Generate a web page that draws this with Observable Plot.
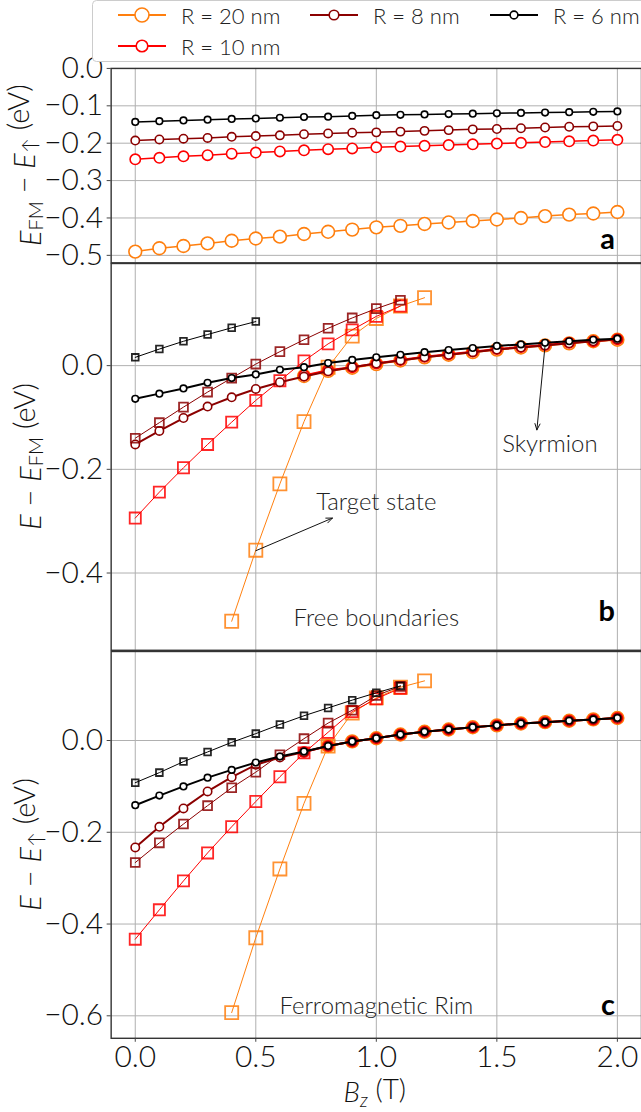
<!DOCTYPE html>
<html>
<head>
<meta charset="utf-8">
<script src="https://cdn.jsdelivr.net/npm/d3@7"></script>
<script src="https://cdn.jsdelivr.net/npm/@observablehq/plot@0.6"></script>
<style>
  html, body { margin: 0; padding: 0; background: #fff; overflow: hidden; }
  #root { position: relative; width: 641px; height: 1112px; overflow: hidden;
          font-family: "Lato Light", Lato, "Open Sans", sans-serif; font-weight: 300; color: #111; }
  #root svg { position: absolute; left: 0; overflow: visible; }
</style>
</head>
<body>
<div id="root"></div>
<script>
// Applied field B_z (T)
const fieldT = [0.0, 0.1, 0.2, 0.3, 0.4, 0.5, 0.6, 0.7, 0.8, 0.9, 1.0,
                1.1, 1.2, 1.3, 1.4, 1.5, 1.6, 1.7, 1.8, 1.9, 2.0];
const xTicks = [0.0, 0.5, 1.0, 1.5, 2.0];

// Island radii (series order: 20, 10, 8, 6 nm)
const seriesLabels = ["R = 20 nm", "R = 10 nm", "R = 8 nm", "R = 6 nm"];

// (a) E_FM - E_up (eV), every field value
const fmR20 = [-0.490, -0.481, -0.475, -0.468, -0.461, -0.455, -0.450, -0.443, -0.437, -0.431, -0.425,
               -0.421, -0.416, -0.412, -0.408, -0.404, -0.400, -0.395, -0.391, -0.388, -0.384];
const fmR10 = [-0.243, -0.239, -0.235, -0.232, -0.228, -0.225, -0.222, -0.219, -0.216, -0.214, -0.211,
               -0.209, -0.207, -0.205, -0.203, -0.201, -0.199, -0.197, -0.195, -0.193, -0.191];
const fmR8  = [-0.193, -0.190, -0.188, -0.186, -0.183, -0.181, -0.179, -0.176, -0.174, -0.172, -0.171,
               -0.169, -0.167, -0.165, -0.163, -0.162, -0.160, -0.158, -0.156, -0.155, -0.154];
const fmR6  = [-0.143, -0.141, -0.139, -0.137, -0.135, -0.134, -0.132, -0.130, -0.129, -0.127, -0.125,
               -0.124, -0.123, -0.122, -0.121, -0.120, -0.119, -0.118, -0.117, -0.116, -0.115];

// (b) free boundaries, E - E_FM (eV)
// skyrmion: R=20 and R=10 start at 0.7 T, R=8 and R=6 at 0 T
const skyFreeR20 = [-0.020, -0.010, -0.004, 0.003, 0.010, 0.016, 0.021, 0.026, 0.031, 0.035, 0.039, 0.043, 0.047, 0.050];
const skyFreeR10 = [-0.019, -0.009, -0.003, 0.004, 0.011, 0.017, 0.022, 0.027, 0.032, 0.036, 0.040, 0.044, 0.047, 0.051];
const skyFreeR8  = [-0.152, -0.126, -0.101, -0.079, -0.061, -0.045, -0.032, -0.021, -0.011, -0.003, 0.004,
                    0.010, 0.016, 0.021, 0.026, 0.031, 0.035, 0.039, 0.043, 0.047, 0.051];
const skyFreeR6  = [-0.064, -0.054, -0.044, -0.033, -0.024, -0.017, -0.008, -0.003, 0.005, 0.011, 0.016,
                    0.021, 0.026, 0.030, 0.034, 0.038, 0.041, 0.044, 0.047, 0.050, 0.052];
// target state: R=20 from 0.4 T, others from 0 T
const tgtFreeR20 = [-0.493, -0.356, -0.228, -0.108, -0.003, 0.057, 0.091, 0.115, 0.131];
const tgtFreeR10 = [-0.294, -0.244, -0.197, -0.152, -0.109, -0.067, -0.029, 0.009, 0.042, 0.069, 0.095, 0.115];
const tgtFreeR8  = [-0.140, -0.110, -0.080, -0.051, -0.024, 0.003, 0.027, 0.050, 0.072, 0.092, 0.110, 0.126];
const tgtFreeR6  = [0.016, 0.032, 0.047, 0.060, 0.073, 0.085];

// (c) ferromagnetic rim, E - E_up (eV)
// skyrmion: R=20 from 0.8 T, R=10 from 0.7 T, R=8 and R=6 from 0 T
const skyRimR20 = [-0.012, -0.002, 0.005, 0.013, 0.019, 0.024, 0.029, 0.033, 0.037, 0.040, 0.043, 0.046, 0.049];
const skyRimR10 = [-0.025, -0.012, -0.002, 0.005, 0.013, 0.019, 0.024, 0.029, 0.033, 0.037, 0.040, 0.043, 0.046, 0.049];
const skyRimR8  = [-0.233, -0.188, -0.148, -0.111, -0.080, -0.053, -0.037, -0.025, -0.012, -0.002, 0.005,
                   0.013, 0.019, 0.024, 0.029, 0.033, 0.037, 0.040, 0.043, 0.046, 0.049];
const skyRimR6  = [-0.141, -0.120, -0.100, -0.081, -0.064, -0.048, -0.035, -0.024, -0.012, -0.002, 0.005,
                   0.013, 0.019, 0.024, 0.029, 0.033, 0.037, 0.040, 0.043, 0.046, 0.049];
// target state: R=20 from 0.4 T, others from 0 T
const tgtRimR20 = [-0.593, -0.430, -0.280, -0.137, -0.012, 0.060, 0.093, 0.116, 0.130];
const tgtRimR10 = [-0.433, -0.369, -0.306, -0.245, -0.188, -0.133, -0.079, -0.027, 0.018, 0.063, 0.091, 0.114];
const tgtRimR8  = [-0.266, -0.223, -0.182, -0.142, -0.103, -0.069, -0.031, 0.004, 0.038, 0.066, 0.098, 0.118];
const tgtRimR6  = [-0.092, -0.070, -0.046, -0.025, -0.004, 0.015, 0.035, 0.054, 0.071, 0.088, 0.104, 0.119];

// ---- styling per radius (same order as seriesLabels) ----
const style = {
  color:   ["#ff7f0e", "#ff0000", "#8b0000", "#000000"],
  circleR: [6.4, 5.2, 4.2, 3.3],
  squareR: [7.4, 6.3, 5.0, 3.8]
};
const FONT = '"Lato Light", Lato, "Open Sans", sans-serif';
const BOLD = 'Lato, "Open Sans", sans-serif';
const TICK_SIZE = 30;

// pair values with field values, starting at a given field
function pts(values, start) {
  const i0 = fieldT.findIndex(v => Math.abs(v - start) < 1e-9);
  return values.map((y, i) => ({x: fieldT[i0 + i], y}));
}

function skyMarks(data, k, lw) {
  return [
    Plot.line(data, {x: "x", y: "y", stroke: style.color[k], strokeWidth: lw}),
    Plot.dot(data, {x: "x", y: "y", r: style.circleR[k], symbol: "circle",
                    fill: "white", stroke: style.color[k], strokeWidth: 1.6})
  ];
}
function tgtMarks(data, k) {
  return [
    Plot.line(data, {x: "x", y: "y", stroke: style.color[k], strokeWidth: 1}),
    Plot.dot(data, {x: "x", y: "y", r: style.squareR[k], symbol: "square",
                    fill: "none", stroke: style.color[k], strokeWidth: 1.8, strokeOpacity: 0.85})
  ];
}

const root = d3.select("#root");
let lastSvg = null;

function panel({top, mt, mb, frameH, yDomain, yTicks, marks, showX, ylabel, letter}) {
  const all = [
    Plot.gridX(xTicks, {stroke: "#b0b0b0", strokeOpacity: 1, strokeWidth: 1}),
    Plot.gridY(yTicks, {stroke: "#b0b0b0", strokeOpacity: 1, strokeWidth: 1}),
    Plot.axisY(yTicks, {tickFormat: d3.format(".1f"), tickSize: 4, tickPadding: 4,
                        fontSize: TICK_SIZE, label: null, stroke: "#444"}),
    ...marks,
    Plot.text([letter.text], {x: [1.99], y: [letter.y], textAnchor: "end", fontFamily: BOLD,
                              fontSize: 29, fontWeight: 700, fill: "#000"}),
    Plot.frame({stroke: "#333", strokeWidth: 1.4})
  ];
  if (showX) all.push(Plot.axisX(xTicks, {tickFormat: d3.format(".1f"), tickSize: 4,
                                           tickPadding: 4, fontSize: TICK_SIZE, label: null, stroke: "#444"}));
  const svg = Plot.plot({
    width: 643, height: mt + frameH + mb,
    marginLeft: 111, marginRight: 0, marginTop: mt, marginBottom: mb,
    x: {domain: [-0.1, 2.1], axis: showX ? undefined : null},
    y: {domain: yDomain},
    style: {fontFamily: FONT, fontWeight: 300, fontSize: TICK_SIZE + "px", color: "#111",
            background: "transparent", overflow: "visible"},
    marks: all
  });
  svg.style.top = top + "px";
  root.node().appendChild(svg);

  // rotated y-axis label with italic symbols and subscripts
  const t = d3.select(svg).append("text")
    .attr("transform", `translate(29,${mt + frameH / 2}) rotate(-90)`)
    .attr("text-anchor", "middle").attr("dominant-baseline", "central")
    .style("font-family", FONT).style("font-weight", 300).style("font-size", "29px")
    .attr("fill", "#111");
  ylabel.forEach(([txt, kind]) => {
    const s = t.append("tspan").text(txt);
    if (kind === "i") s.style("font-style", "italic");
    if (kind === "sub") s.attr("dy", "0.28em").style("font-size", "20px");
    if (kind === "after") s.attr("dy", "-0.4em");
  });
  lastSvg = svg;
  return svg;
}

// (a)
panel({
  top: 48, mt: 20, mb: 0, frameH: 195,
  yDomain: [-0.520, 0.0], yTicks: [0.0, -0.1, -0.2, -0.3, -0.4, -0.5],
  marks: [
    ...skyMarks(pts(fmR20, 0), 0, 1.5),
    ...skyMarks(pts(fmR10, 0), 1, 1.5),
    ...skyMarks(pts(fmR8, 0), 2, 1.5),
    ...skyMarks(pts(fmR6, 0), 3, 1.5)
  ],
  ylabel: [["E", "i"], ["FM", "sub"], [" − ", "after"], ["E", "i"], ["↑", "sub"], [" (eV)", "after"]],
  letter: {text: "a", y: -0.458}
});

// (b)
panel({
  top: 263, mt: 0, mb: 0, frameH: 388,
  yDomain: [-0.549, 0.197], yTicks: [0.0, -0.2, -0.4],
  marks: [
    ...skyMarks(pts(skyFreeR20, 0.7), 0, 2), ...tgtMarks(pts(tgtFreeR20, 0.4), 0),
    ...skyMarks(pts(skyFreeR10, 0.7), 1, 2), ...tgtMarks(pts(tgtFreeR10, 0), 1),
    ...skyMarks(pts(skyFreeR8, 0), 2, 2),    ...tgtMarks(pts(tgtFreeR8, 0), 2),
    ...skyMarks(pts(skyFreeR6, 0), 3, 2),    ...tgtMarks(pts(tgtFreeR6, 0), 3),
    Plot.arrow([{x1: 1.70, y1: 0.039, x2: 1.666, y2: -0.124}],
               {x1: "x1", y1: "y1", x2: "x2", y2: "y2", stroke: "#111", strokeWidth: 1, headLength: 10, headAngle: 45}),
    Plot.arrow([{x1: 0.5, y1: -0.357, x2: 0.818, y2: -0.294}],
               {x1: "x1", y1: "y1", x2: "x2", y2: "y2", stroke: "#111", strokeWidth: 1, headLength: 10, headAngle: 45}),
    Plot.text(["Skyrmion"], {x: [1.72], y: [-0.151], fontSize: 24, fill: "#222"}),
    Plot.text(["Target state"], {x: [1.0], y: [-0.263], fontSize: 24, fill: "#222"}),
    Plot.text(["Free boundaries"], {x: [1.0], y: [-0.488], fontSize: 24, fill: "#222"})
  ],
  ylabel: [["E", "i"], [" − ", ""], ["E", "i"], ["FM", "sub"], [" (eV)", "after"]],
  letter: {text: "b", y: -0.474}
});

// (c)
panel({
  top: 651, mt: 0, mb: 73, frameH: 388,
  yDomain: [-0.649, 0.194], yTicks: [0.0, -0.2, -0.4, -0.6],
  showX: true,
  marks: [
    ...skyMarks(pts(skyRimR20, 0.8), 0, 2), ...tgtMarks(pts(tgtRimR20, 0.4), 0),
    ...skyMarks(pts(skyRimR10, 0.7), 1, 2), ...tgtMarks(pts(tgtRimR10, 0), 1),
    ...skyMarks(pts(skyRimR8, 0), 2, 2),    ...tgtMarks(pts(tgtRimR8, 0), 2),
    ...skyMarks(pts(skyRimR6, 0), 3, 2),    ...tgtMarks(pts(tgtRimR6, 0), 3),
    Plot.text(["Ferromagnetic Rim"], {x: [1.0], y: [-0.579], fontSize: 24, fill: "#222"})
  ],
  ylabel: [["E", "i"], [" − ", ""], ["E", "i"], ["↑", "sub"], [" (eV)", "after"]],
  letter: {text: "c", y: -0.579}
});

// x-axis title under panel (c)
{
  const t = d3.select(lastSvg).append("text")
    .attr("x", (111 + 641) / 2).attr("y", 388 + 64)
    .attr("text-anchor", "middle")
    .style("font-family", FONT).style("font-weight", 300).style("font-size", "28px").attr("fill", "#111");
  t.append("tspan").text("B").style("font-style", "italic");
  t.append("tspan").text("z").style("font-style", "italic").style("font-size", "19px").attr("dy", "0.3em");
  t.append("tspan").text(" (T)").attr("dy", "-0.3em");
}

// legend above the panels
{
  const lg = root.append("svg").attr("width", 641).attr("height", 64).style("top", "0px");
  lg.append("rect").attr("x", 92.5).attr("y", 0.5).attr("width", 600).attr("height", 61)
    .attr("rx", 4).attr("fill", "white").attr("stroke", "#cccccc");
  const slots = [{x: 118, y: 15}, {x: 118, y: 46}, {x: 310, y: 15}, {x: 490, y: 15}];
  seriesLabels.forEach((lab, k) => {
    const {x, y} = slots[k];
    lg.append("line").attr("x1", x).attr("x2", x + 48).attr("y1", y).attr("y2", y)
      .attr("stroke", style.color[k]).attr("stroke-width", 2);
    lg.append("circle").attr("cx", x + 24).attr("cy", y).attr("r", style.circleR[k] + 0.6)
      .attr("fill", "white").attr("stroke", style.color[k]).attr("stroke-width", 1.6);
    lg.append("text").attr("x", x + 63).attr("y", y).attr("dominant-baseline", "central")
      .style("font-family", FONT).style("font-weight", 300).style("font-size", "22px")
      .attr("fill", "#222").text(lab);
  });
}
</script>
</body>
</html>
